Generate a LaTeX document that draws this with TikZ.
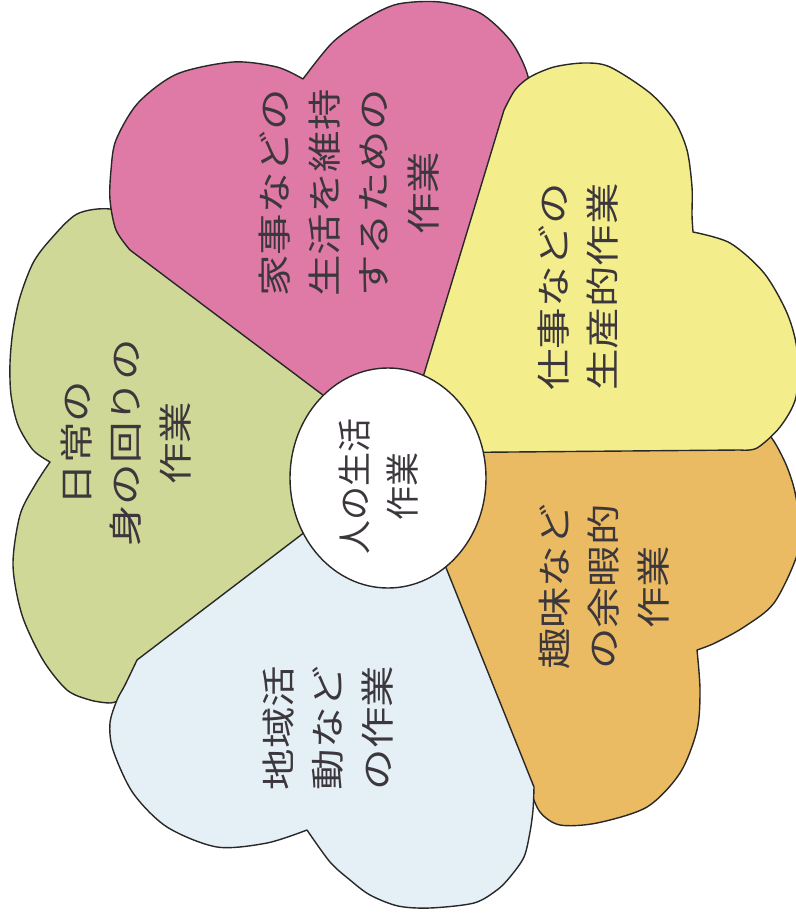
\documentclass[tikz,border=0pt]{standalone}
\usepackage{fontspec}
\newfontfamily\jpf{Noto Sans CJK JP}
\definecolor{pinkc}{RGB}{222,122,165}
\definecolor{yellowc}{RGB}{244,237,140}
\definecolor{orangec}{RGB}{235,187,100}
\definecolor{bluec}{RGB}{228,239,246}
\definecolor{greenc}{RGB}{207,216,150}
\definecolor{linec}{RGB}{40,40,40}
\definecolor{txtc}{RGB}{60,55,60}
\tikzset{
  petal/.style={draw=linec, line width=1.4pt, line join=round},
  ptext/.style={rotate=90, xscale=1.22, align=center, inner sep=0pt, text=txtc,
    font=\jpf\fontsize{34}{49.5}\selectfont},
  ctext/.style={rotate=90, align=center, inner sep=0pt, text=txtc,
    font=\jpf\fontsize{34}{48}\selectfont}
}
\begin{document}
\begin{tikzpicture}[x=1pt,y=-1pt]
\fill[white] (0,0) rectangle (795,920);
\useasboundingbox (0,0) rectangle (795,920);
% green petal
\path[petal, fill=greenc] (400,456) -- (120,700) -- plot[smooth] coordinates {(120,700) (110,703) (90,700) (67,690) (43,660) (22,615) (13,565) (20,515) (35,485) (50,462)} -- plot[smooth] coordinates {(50,462) (33,450) (18,425) (11,395) (10,363) (13,330) (20,297) (33,263) (50,240) (77,214) (110,209) (140,222)} -- cycle;
% orange petal
\path[petal, fill=orangec] (395,455) -- (700,425) -- plot[smooth] coordinates {(700,425) (740,428) (767,433) (784,460) (794,488) (799,520) (797,555) (774,603) (744,627) (715,643) (697,650)} -- plot[smooth] coordinates {(697,650) (700,690) (697,730) (680,773) (647,807) (597,823) (560,825) (540,812) (528,785) (515,755) (500,730)} -- cycle;
% pink petal
\path[petal, fill=pinkc] (400,453) -- (130,250) -- plot[smooth] coordinates {(130,250) (116,230) (110,200) (111,170) (116,140) (138,103) (177,74) (233,62) (277,67) (303,79)} -- plot[smooth] coordinates {(303,79) (333,42) (367,18) (398,4) (440,2) (480,13) (510,40) (526,70) (532,100) (530,130)} -- cycle;
% yellow petal
\path[petal, fill=yellowc] (400,453) -- (504,110) -- plot[smooth] coordinates {(504,110) (515,90) (530,77) (554,67) (584,63) (610,67) (650,93) (674,120) (687,150) (692,187) (692,215) (693,232)} -- plot[smooth] coordinates {(693,232) (730,243) (764,273) (787,313) (797,350) (796,397) (780,427) (757,448) (740,450)} -- cycle;
% blue petal
\path[petal, fill=bluec] (402,458) -- (534,787) -- plot[smooth] coordinates {(534,787) (533,810) (530,832) (524,857) (510,877) (497,890) (474,903) (430,908) (398,906) (370,895) (350,880) (330,862) (307,830)} -- plot[smooth] coordinates {(307,830) (267,843) (217,847) (167,827) (133,793) (113,750) (110,723) (117,700) (125,685) (137,660)} -- cycle;
% centre
\path[petal, fill=white] (388,478) ellipse [x radius=98pt, y radius=110pt];
% texts
\node[ptext] (tpink) at (349,193) {家事などの\\生活を維持\\するための\\作業};
\node[ptext] (tyellow) at (578,287) {仕事などの\\生産的作業};
\node[ptext] (tgreen) at (126,443) {日常の\\身の回りの\\作業};
\node[ptext] (torange) at (604,587) {趣味など\\の余暇的\\作業};
\node[ptext] (tblue) at (328,728) {地域活\\動など\\の作業};
\node[ctext] (tcenter) at (379,486) {人の生活\\作業};
\end{tikzpicture}
\end{document}
